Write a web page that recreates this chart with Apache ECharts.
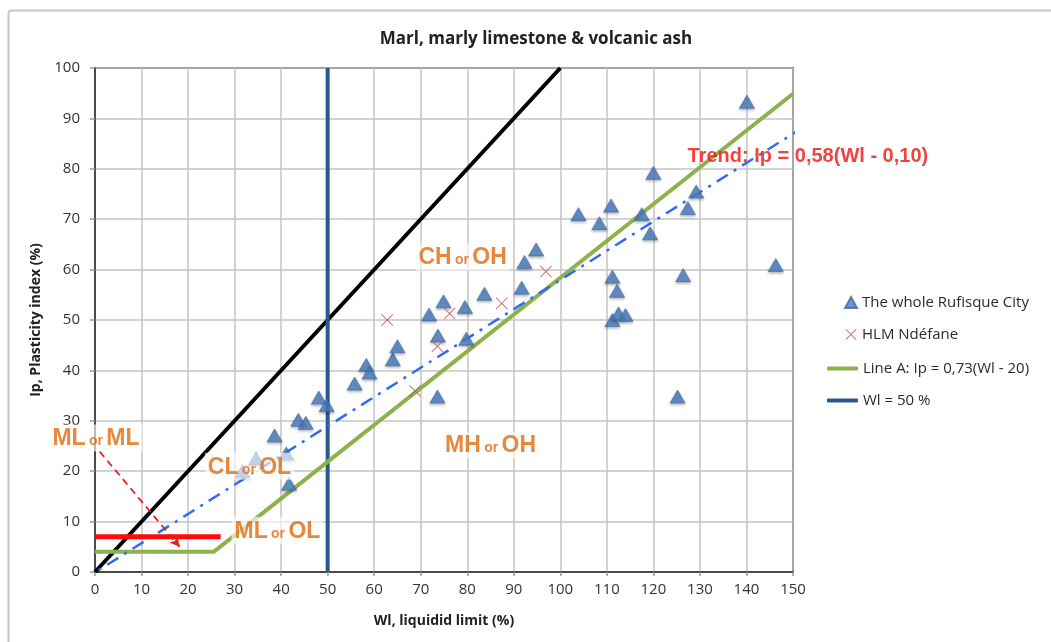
<!DOCTYPE html>
<html>
<head>
<meta charset="utf-8">
<script src="https://cdn.jsdelivr.net/npm/echarts@6/dist/echarts.min.js"></script>
<style>html,body{margin:0;padding:0;background:#fff}#c{width:1051px;height:642px}</style>
</head>
<body>
<div id="c"></div>
<script>
// ---- data ----
const xTicks = [0,10,20,30,40,50,60,70,80,90,100,110,120,130,140,150];
const yTicks = [0,10,20,30,40,50,60,70,80,90,100];

const rufisqueWl = [31.7,34.6,38.6,41.1,41.7,43.7,45.3,48.1,49.8,55.8,58.3,59.0,64.0,65.0,71.8,73.6,73.7,74.9,79.5,79.8,83.7,91.7,92.3,94.8,103.9,108.4,110.9,111.2,112.2,111.2,112.5,114.0,117.5,119.3,120.0,125.2,126.4,127.4,129.2,140.1,146.3];
const rufisqueIp = [20.0,22.5,27.1,23.5,17.5,30.2,29.6,34.6,33.1,37.4,41.1,39.6,42.2,44.8,51.1,34.8,46.9,53.7,52.6,46.3,55.2,56.4,61.5,64.0,71.0,69.2,72.7,58.6,55.8,50.0,51.3,51.0,71.0,67.2,79.2,34.8,58.9,72.2,75.5,93.3,60.9];

const hlmWl = [62.8,68.8,73.6,76.2,87.4,96.9];
const hlmIp = [50.0,35.9,44.8,51.3,53.3,59.6];

const lineAWl = [0,25.5,150];
const lineAIp = [4,4,94.9];

const wl50Wl = [50,50];
const wl50Ip = [0,100];

const upperWl = [0,100];
const upperIp = [0,100];

const trendWl = [-8.3,158];
const trendIp = [-4.9,91.6];

const redWl = [0,27];
const redIp = [7,7];

const arrowFrom = [1.0,23.9];
const arrowTo = [18.2,5.0];

const zoneNames = ['CH or OH','MH or OH','CL or OL','ML or OL','ML or ML'];
const zoneWl = [79,85,33.2,39.2,0.2];
const zoneIp = [62.5,25.2,21,8.3,26.6];

const trendText = 'Trend: Ip = 0,58(Wl - 0,10)';
const trendTextWl = 153.2;
const trendTextIp = 82.5;

const markerNames = ['The whole Rufisque City','HLM Ndéfane'];
const lineNames = ['Line A: Ip = 0,73(Wl - 20)','Wl = 50 %'];

// ---- helpers ----
const zip = (a,b) => a.map((v,i)=>[v,b[i]]);
const ORANGE = '#E06A0C';
const FONT = '"Open Sans", "Liberation Sans", sans-serif';
const ARIAL = '"Liberation Sans", Arial, sans-serif';
const crossPath = 'path://M0,0.6L0.6,0L5,4.4L9.4,0L10,0.6L5.6,5L10,9.4L9.4,10L5,5.6L0.6,10L0,9.4L4.4,5Z';

const zoneData = zoneNames.map((n,i)=>({
  name: n,
  value: [zoneWl[i], zoneIp[i]],
  label: {
    formatter: () => { const p = n.split(' '); return '{big|' + p[0] + '} {small|' + p[1] + '} {big|' + p[2] + '}'; },
    backgroundColor: 'rgba(255,255,255,0.78)',
    padding: [3,3,1,3]
  }
}));
zoneData.push({
  name: trendText,
  value: [trendTextWl, trendTextIp],
  label: { formatter: '{trend|' + trendText + '}' }
});

const legendText = {fontFamily: FONT, fontSize: 15, color: '#2a2a2a'};

const chart = echarts.init(document.getElementById('c'), null, {renderer:'canvas'});
chart.setOption({
  animation: false,
  backgroundColor: '#fff',
  title: {
    text: 'Marl, marly limestone & volcanic ash',
    left: 531, top: 26, textAlign: 'center',
    textStyle: {fontFamily: FONT, fontSize: 17, fontWeight: 'bold', color: '#222'}
  },
  graphic: [{
    type: 'rect', left: 6, top: 8, silent: true, z: -10,
    shape: {width: 1200, height: 800, r: 3},
    style: {fill: 'none', stroke: '#c6c6c6', lineWidth: 2}
  }],
  legend: [
    {
      orient: 'vertical', left: 839, top: 290, itemGap: 17,
      itemWidth: 12, itemHeight: 11,
      textStyle: legendText,
      data: [
        {name: markerNames[0], icon: 'triangle'},
        {name: markerNames[1], icon: crossPath}
      ]
    },
    {
      orient: 'vertical', left: 822, top: 356, itemGap: 17,
      itemWidth: 31, itemHeight: 4,
      textStyle: legendText,
      data: [
        {name: lineNames[0], icon: 'roundRect'},
        {name: lineNames[1], icon: 'roundRect'}
      ]
    }
  ],
  grid: {left: 95, right: 258, top: 68, bottom: 70, show: true, borderColor: '#4a4a4a', borderWidth: 2, containLabel: false},
  xAxis: {
    type: 'value', min: 0, max: 150, interval: 10,
    name: 'Wl, liquidid limit (%)', nameLocation: 'middle', nameGap: 42,
    nameTextStyle: {fontFamily: FONT, fontSize: 14, fontWeight: 'bold', color: '#222'},
    axisLine: {show: true, onZero: false, lineStyle: {color: '#4a4a4a', width: 2}},
    axisTick: {show: true, length: 4, lineStyle: {color: '#999', width: 1.5}},
    axisLabel: {fontFamily: FONT, fontSize: 15, color: '#333', margin: 10, formatter: v => xTicks.includes(v) ? String(v) : ''},
    splitLine: {show: true, lineStyle: {color: '#c4c4c4', width: 1.5}}
  },
  yAxis: {
    type: 'value', min: 0, max: 100, interval: 10,
    name: 'Ip, Plasticity index (%)', nameLocation: 'middle', nameGap: 50,
    nameTextStyle: {fontFamily: FONT, fontSize: 14, fontWeight: 'bold', color: '#222'},
    axisLine: {show: true, onZero: false, lineStyle: {color: '#4a4a4a', width: 2}},
    axisTick: {show: true, length: 5, lineStyle: {color: '#999', width: 1.5}},
    axisLabel: {fontFamily: FONT, fontSize: 15, color: '#333', margin: 15, formatter: v => yTicks.includes(v) ? String(v) : ''},
    splitLine: {show: true, lineStyle: {color: '#c4c4c4', width: 1.5}}
  },
  series: [
    {
      name: 'Upper', type: 'line', data: zip(upperWl, upperIp), symbol: 'none',
      lineStyle: {color: '#000', width: 4}, z: 3
    },
    {
      name: lineNames[1], type: 'line', data: zip(wl50Wl, wl50Ip), symbol: 'none',
      itemStyle: {color: '#2A5A8C'},
      lineStyle: {color: '#2A5A8C', width: 4}, z: 3
    },
    {
      name: lineNames[0], type: 'line', data: zip(lineAWl, lineAIp), symbol: 'none',
      itemStyle: {color: '#8DB24C'},
      lineStyle: {color: '#8DB24C', width: 4}, z: 3
    },
    {
      name: 'Trend', type: 'line', data: zip(trendWl, trendIp), symbol: 'none', clip: false,
      lineStyle: {color: '#2F6BF5', width: 2.5, type: [13,7,3,7]}, z: 4
    },
    {
      name: 'Red', type: 'line', data: zip(redWl, redIp), symbol: 'none',
      lineStyle: {color: '#FF0A0A', width: 5}, z: 4
    },
    {
      name: 'Arrow', type: 'line', data: [], symbol: 'none',
      markLine: {
        silent: true, symbol: ['none','arrow'], symbolSize: [8,10],
        label: {show: false},
        lineStyle: {color: '#E8201C', width: 1.8, type: [7,5]},
        data: [[{coord: arrowFrom}, {coord: arrowTo}]]
      }, z: 5
    },
    {
      name: markerNames[0], type: 'scatter', data: zip(rufisqueWl, rufisqueIp),
      symbol: 'triangle', symbolSize: [15,13],
      itemStyle: {color: '#4A7EC0', borderColor: '#3C6BA6', borderWidth: 0.8, shadowBlur: 3, shadowColor: 'rgba(0,0,0,0.35)', shadowOffsetY: 1.5},
      z: 6
    },
    {
      name: markerNames[1], type: 'scatter', data: zip(hlmWl, hlmIp),
      symbol: crossPath, symbolSize: 12,
      itemStyle: {color: '#C0504D'},
      z: 6
    },
    {
      name: 'Annotations', type: 'scatter', data: zoneData, symbolSize: 0, clip: false, silent: true,
      label: {
        show: true, position: 'inside',
        rich: {
          big: {fontFamily: ARIAL, fontSize: 23, fontWeight: 'bold', color: ORANGE},
          small: {fontFamily: ARIAL, fontSize: 14, fontWeight: 'bold', color: ORANGE, verticalAlign: 'bottom', padding: [0,0,2,0]},
          trend: {fontFamily: ARIAL, fontSize: 20, fontWeight: 'bold', color: '#F01010'}
        }
      },
      z: 7
    }
  ]
});
</script>
</body>
</html>
